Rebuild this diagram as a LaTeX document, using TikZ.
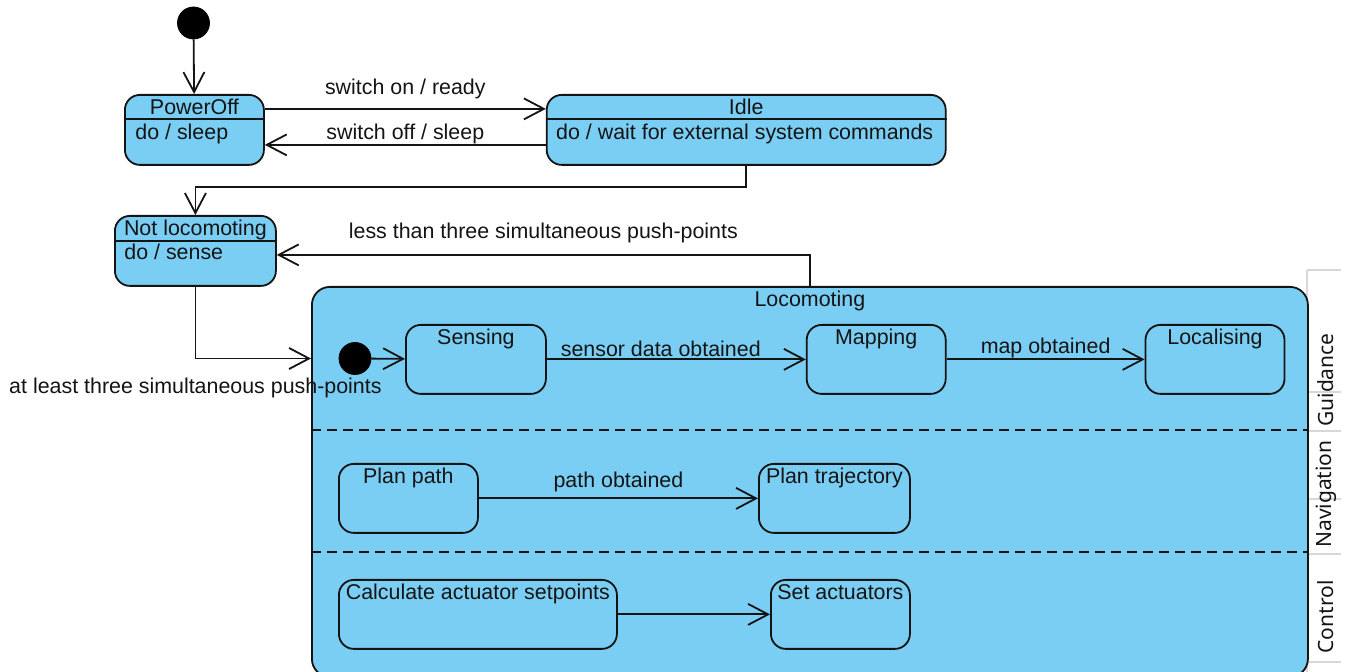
\documentclass[tikz,border=0pt]{standalone}
\usepackage{fontspec}
\setmainfont{Liberation Sans}
\newfontfamily\regionfont{Noto Sans}
\usetikzlibrary{arrows.meta, positioning, calc}
\definecolor{stateColor}{RGB}{122,206,244}
\definecolor{lineColor}{RGB}{20,20,20}
\definecolor{tabColor}{RGB}{215,215,215}
\tikzstyle{state} = [rectangle, rounded corners=7.5pt, draw=lineColor, fill=stateColor, line width=0.9pt, inner sep=0pt, anchor=north west, minimum width=70pt, minimum height=34.5pt]
\tikzstyle{initial} = [circle, fill=black, draw=black, minimum size=16pt, inner sep=0pt]
\tikzstyle{title} = [anchor=north, inner sep=1pt, text height=9.3pt, text depth=2.5pt, text=lineColor]
\tikzstyle{activity} = [anchor=base west, inner sep=0pt, text=lineColor]
\tikzstyle{separator} = [draw=lineColor, line width=0.6pt]
\tikzstyle{arrow} = [line width=0.9pt, draw=lineColor, text=lineColor, -{Straight Barb[length=10pt, width=10.5pt, line width=0.9pt]}]
\tikzstyle{region} = [draw=lineColor, line width=0.9pt, dash pattern=on 5pt off 3pt]
\tikzstyle{tab} = [draw=tabColor, line width=0.6pt]
\tikzstyle{tablabel} = [rotate=90, inner sep=0pt, font=\regionfont\fontsize{10.5}{12}\selectfont, text=lineColor]

\begin{document}
\begin{tikzpicture}[x=0.5pt, y=-0.5pt, font=\fontsize{10.7}{12.8}\selectfont]
    \useasboundingbox (0,0) rectangle (1351,672);

    % Top level states
    \node (start) [initial] at (193.5,23) {};
    \node (poweroff) [state, minimum width=69.5pt, minimum height=35pt] at (124,94) {};
    \node (idle) [state, minimum width=199.5pt, minimum height=35pt, right=140.5pt of poweroff.north east, anchor=north west] {};
    \node (notloco) [state, minimum width=80.5pt, minimum height=35pt] at (114,215) {};

    \draw [separator] ($(poweroff.north west)+(0,25)$) -- ($(poweroff.north east)+(0,25)$);
    \draw [separator] ($(idle.north west)+(0,25)$) -- ($(idle.north east)+(0,25)$);
    \draw [separator] ($(notloco.north west)+(0,26)$) -- ($(notloco.north east)+(0,26)$);

    \node (poweroff_name) [title] at (poweroff.north) {PowerOff};
    \node (poweroff_do) [activity] at ($(poweroff.north west)+(11,45.5)$) {do / sleep};
    \node (idle_name) [title] at (idle.north) {Idle};
    \node (idle_do) [activity] at ($(idle.north west)+(10,45.5)$) {do / wait for external system commands};
    \node (notloco_name) [title] at (notloco.north) {Not locomoting};
    \node (notloco_do) [activity] at ($(notloco.north west)+(10,44.5)$) {do / sense};

    % Region tabs
    \draw [tab] (1307,270) -- (1307,672);
    \foreach \y in {270,392,431,499,554,662}
        \draw [tab] (1307,\y) -- (1341,\y);
    \node (guidance) [tablabel] at (1326,380) {Guidance};
    \node (navigation) [tablabel] at (1326,494) {Navigation};
    \node (control) [tablabel] at (1326,617) {Control};

    % Locomoting composite state
    \node (loco) [state, rounded corners=9pt, minimum width=498pt, minimum height=195pt] at (311,286) {};
    \node (loco_name) [title] at (loco.north) {Locomoting};
    \draw [region] ($(loco.north west)+(0,144)$) -- ($(loco.north east)+(0,144)$);
    \draw [region] ($(loco.north west)+(0,266)$) -- ($(loco.north east)+(0,266)$);

    % Guidance
    \node (inner) [initial] at (355,358.5) {};
    \node (sensing) [state] at (405,324) {};
    \node (mapping) [state, minimum width=69.5pt, right=129.5pt of sensing.north east, anchor=north west] {};
    \node (localising) [state, minimum width=69.5pt, right=99pt of mapping.north east, anchor=north west] {};
    \node (sensing_name) [title] at (sensing.north) {Sensing};
    \node (mapping_name) [title] at (mapping.north) {Mapping};
    \node (localising_name) [title] at (localising.north) {Localising};

    % Navigation
    \node (planpath) [state, minimum width=69.5pt] at (338,463) {};
    \node (plantraj) [state, minimum width=75.5pt] at (758,463) {};
    \node (planpath_name) [title] at (planpath.north) {Plan path};
    \node (plantraj_name) [title] at (plantraj.north) {Plan trajectory};

    % Control
    \node (calc) [state, minimum width=139pt] at (338,579) {};
    \node (setact) [state, minimum width=69.5pt] at (770,579) {};
    \node (calc_name) [title] at (calc.north) {Calculate actuator setpoints};
    \node (setact_name) [title] at (setact.north) {Set actuators};

    % Transitions
    \draw [arrow] (start) -- (poweroff);
    \draw [arrow] ([yshift=10.5pt]poweroff.east) -- ([yshift=10.5pt]poweroff.east -| idle.west)
        node[midway, yshift=10pt] {switch on / ready};
    \draw [arrow] ([yshift=-7.5pt]idle.west) -- ([yshift=-7.5pt]idle.west -| poweroff.east)
        node[midway, yshift=5.5pt] {switch off / sleep};
    \draw [arrow] (idle.south) -- ++(0,21) -| (notloco.north);
    \draw [arrow] (loco.north) |- ([yshift=-2pt]notloco.east)
        node[pos=0.75, yshift=11pt] {less than three simultaneous push-points};
    \draw [arrow] (notloco.south) |- (loco.west |- inner.center)
        node[pos=0.5, yshift=-14.5pt] {at least three simultaneous push-points};
    \draw [arrow] (inner) -- (sensing);
    \draw [arrow] (sensing) -- (mapping) node[pos=0.44, yshift=5.5pt] {sensor data obtained};
    \draw [arrow] (mapping) -- (localising) node[midway, yshift=5.5pt] {map obtained};
    \draw [arrow] (planpath) -- (plantraj) node[midway, yshift=8pt] {path obtained};
    \draw [arrow] (calc) -- (setact);
\end{tikzpicture}
\end{document}
